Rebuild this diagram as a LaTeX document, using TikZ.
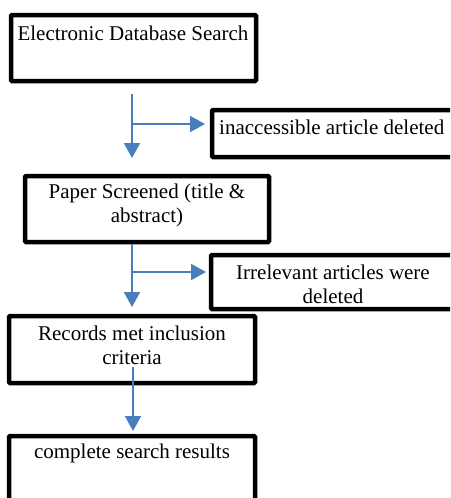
\documentclass[tikz,border=0pt]{standalone}
\usepackage{fontspec}
\setmainfont{Liberation Serif}
\usetikzlibrary{arrows.meta}
\definecolor{arrblue}{RGB}{74,126,187}
\begin{document}
\begin{tikzpicture}[x=1pt,y=-1pt,
  boxstyle/.style={draw=black,line width=4.5pt,rounded corners=1pt,inner sep=0pt},
  txt/.style={inner sep=0pt,align=center,font=\fontsize{21}{24}\selectfont},
  arr/.style={draw=arrblue,line width=2pt,-{Triangle[width=16pt,length=15pt]}},
  ln/.style={draw=arrblue,line width=2pt}]
\useasboundingbox (0,0) rectangle (450,498);
\clip (0,0) rectangle (450,498);
% boxes
\node[boxstyle,minimum width=245pt,minimum height=66pt] (b1) at (133.5,48) {};
\node[boxstyle,minimum width=250pt,minimum height=47pt] (b2) at (337,133.5) {};
\node[boxstyle,minimum width=244pt,minimum height=66pt] (b3) at (147,209) {};
\node[boxstyle,minimum width=250pt,minimum height=54pt] (b4) at (336,282) {};
\node[boxstyle,minimum width=246pt,minimum height=67pt] (b5) at (132,349.5) {};
\node[boxstyle,minimum width=246pt,minimum height=100pt] (b6) at (132,486) {};
% texts
\node[txt] (t1) at (133,33) {Electronic Database Search};
\node[txt,anchor=west] (t2) at (219,127) {inaccessible article deleted};
\node[txt] (t3) at (147,205) {Paper Screened (title \&\\abstract)};
\node[txt] (t4) at (333,284) {Irrelevant articles were\\deleted};
\node[txt] (t5) at (132,345.5) {Records met inclusion\\criteria};
\node[txt] (t6) at (132,453) {complete search results};
% connector points
\coordinate (s1) at (132,94);
\coordinate (e1) at (132,158);
\coordinate (j1) at (132,124);
\coordinate (h1) at (205,124);
\coordinate (s2) at (132,244);
\coordinate (e2) at (132,307);
\coordinate (j2) at (132,272);
\coordinate (h2) at (206,272);
\coordinate (s3) at (133,367);
\coordinate (e3) at (133,431);
% connectors
\draw[arr] (s1) -- (e1);
\draw[arr] (j1) -- (h1);
\draw[arr] (s2) -- (e2);
\draw[arr] (j2) -- (h2);
\draw[arr] (s3) -- (e3);
\end{tikzpicture}
\end{document}
